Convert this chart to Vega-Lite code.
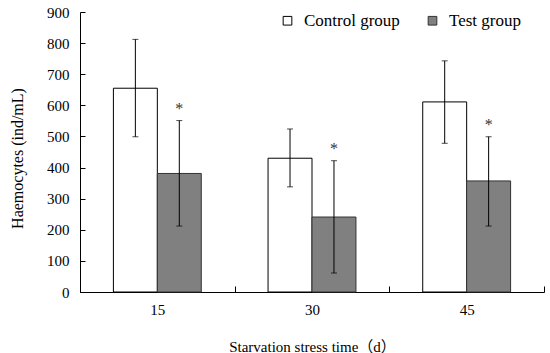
{
  "$schema": "https://vega.github.io/schema/vega-lite/v6.json",
  "autosize": "none",
  "width": 464,
  "height": 280,
  "padding": {"left": 80, "top": 12, "right": 6, "bottom": 61},
  "background": "white",
  "config": {
    "view": {"stroke": null},
    "font": "Liberation Serif, serif",
    "text": {"font": "Liberation Serif, serif"},
    "legend": {"labelFont": "Liberation Serif, serif", "titleFont": "Liberation Serif, serif"},
    "axis": {"labelFont": "Liberation Serif, serif", "titleFont": "Liberation Serif, Noto Sans CJK SC, serif", "labelColor": "black", "titleColor": "black", "domainColor": "black", "tickColor": "black", "titleFontWeight": "normal", "labelFontSize": 15, "titleFontSize": 16, "grid": false, "labelOverlap": false},
    "axisY": {"title": "Haemocytes (ind/mL)", "values": [0,100,200,300,400,500,600,700,800,900], "tickSize": -5, "labelPadding": 16, "titleX": -63, "titleY": 146, "titleBaseline": "middle"}
  },
  "data": {
    "values": [
      {"day": "15", "group": "Control group", "mean": 655, "lo": 499, "hi": 812, "sig": ""},
      {"day": "15", "group": "Test group", "mean": 381, "lo": 212, "hi": 551, "sig": "*"},
      {"day": "30", "group": "Control group", "mean": 430, "lo": 338, "hi": 524, "sig": ""},
      {"day": "30", "group": "Test group", "mean": 241, "lo": 61, "hi": 422, "sig": "*"},
      {"day": "45", "group": "Control group", "mean": 611, "lo": 478, "hi": 743, "sig": ""},
      {"day": "45", "group": "Test group", "mean": 357, "lo": 212, "hi": 499, "sig": "*"}
    ]
  },
  "encoding": {
    "x": {
      "field": "day", "type": "nominal", "sort": ["15", "30", "45"],
      "scale": {"paddingInner": 0, "paddingOuter": 0},
      "axis": {"title": "Starvation stress time（d）", "labelAngle": 0, "tickBand": "extent", "tickSize": -6, "labelPadding": 16, "titleY": 54, "titleBaseline": "middle", "titleFontSize": 15, "domainWidth": 1}
    },
    "xOffset": {"field": "group", "type": "nominal", "scale": {"paddingInner": 0, "paddingOuter": 0.76}}
  },
  "layer": [
    {
      "mark": {"type": "bar", "strokeWidth": 1},
      "encoding": {
        "y": {"field": "mean", "type": "quantitative", "scale": {"domain": [0, 900]}, "title": "Haemocytes (ind/mL)"},
        "fill": {"field": "group", "type": "nominal", "scale": {"domain": ["Control group", "Test group"], "range": ["white", "#808080"]},
          "legend": {"title": null, "orient": "none", "legendX": 199, "legendY": 0, "direction": "horizontal", "symbolType": "square", "symbolSize": 75, "symbolStrokeWidth": 1, "labelFontSize": 17, "labelColor": "black", "labelOffset": 8, "columnPadding": 24, "padding": 0}},
        "stroke": {"field": "group", "type": "nominal", "scale": {"domain": ["Control group", "Test group"], "range": ["black", "#333333"]}, "legend": null}
      }
    },
    {
      "mark": {"type": "rule", "color": "black", "strokeWidth": 1},
      "encoding": {"y": {"field": "lo", "type": "quantitative", "title": "Haemocytes (ind/mL)"}, "y2": {"field": "hi"}}
    },
    {
      "mark": {"type": "tick", "color": "black", "size": 6, "thickness": 1},
      "encoding": {"y": {"field": "hi", "type": "quantitative", "title": "Haemocytes (ind/mL)"}}
    },
    {
      "mark": {"type": "tick", "color": "black", "size": 6, "thickness": 1},
      "encoding": {"y": {"field": "lo", "type": "quantitative", "title": "Haemocytes (ind/mL)"}}
    },
    {
      "mark": {"type": "text", "dy": -12, "fontSize": 16, "color": "#333333"},
      "encoding": {"y": {"field": "hi", "type": "quantitative", "title": "Haemocytes (ind/mL)"}, "text": {"field": "sig"}}
    }
  ]
}
